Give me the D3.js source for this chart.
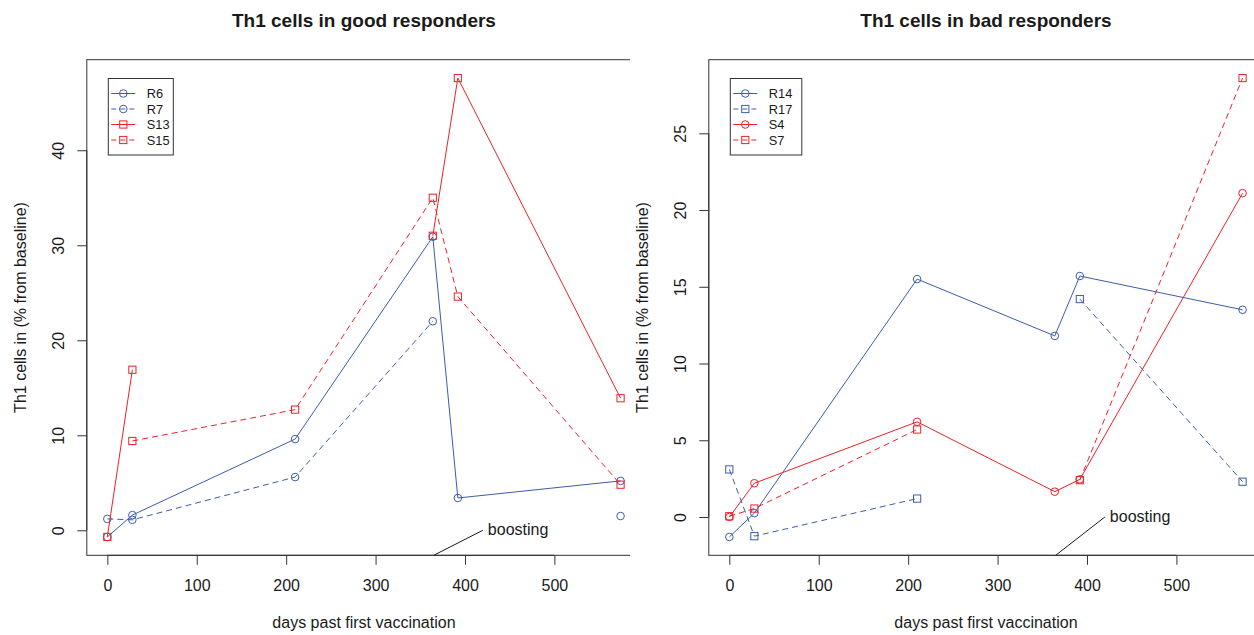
<!DOCTYPE html>
<html>
<head>
<meta charset="utf-8">
<script src="https://cdn.jsdelivr.net/npm/d3@7"></script>
<style>
  body { margin: 0; background: #fff; }
  svg { display: block; }
  text { font-family: "Liberation Sans", Arial, Helvetica, sans-serif; fill: #1a1a1a; }
</style>
</head>
<body>
<svg id="chart" width="1254" height="635"></svg>
<script>
// ---- data ----
const days = [0, 28, 210, 364, 392, 574];
const xTicks = [0, 100, 200, 300, 400, 500];

// good responders (Th1 cells, % from baseline); null = not measured
const goodNames = ["R6", "R7", "S13", "S15"];
const R6  = [-0.7, 1.6, 9.6, 30.9, 3.4, 5.2];
const R7  = [1.2, 1.1, 5.6, 22.0, null, 1.5];
const S13 = [-0.7, 16.9, null, 31.0, 47.6, 13.9];
const S15 = [null, 9.4, 12.7, 35.0, 24.6, 4.8];
const goodTicks = [0, 10, 20, 30, 40];

// bad responders
const badNames = ["R14", "R17", "S4", "S7"];
const R14 = [-1.3, 0.25, 15.5, 11.8, 15.7, 13.5];
const R17 = [3.1, -1.25, 1.2, null, 14.2, 2.3];
const S4  = [0.0, 2.2, 6.2, 1.65, 2.45, 21.1];
const S7  = [0.05, 0.55, 5.7, null, 2.4, 28.6];
const badTicks = [0, 5, 10, 15, 20, 25];

const boostStart = 365, boostEnd = 420, boostLabel = "boosting";
const yTitle = "Th1 cells in (% from baseline)";
const xTitle = "days past first vaccination";

// ---- styles ----
const BLUE = "#3c5caa", RED = "#ee2028";
const goodStyles = [
  { color: BLUE, dash: null, shape: "circle" },
  { color: BLUE, dash: "6,4", shape: "circle" },
  { color: RED,  dash: null, shape: "square" },
  { color: RED,  dash: "6,4", shape: "square" }
];
const badStyles = [
  { color: BLUE, dash: null, shape: "circle" },
  { color: BLUE, dash: "6,4", shape: "square" },
  { color: RED,  dash: null, shape: "circle" },
  { color: RED,  dash: "6,4", shape: "square" }
];

const svg = d3.select("#chart");
const AXIS = "#333";

// R-style range: data extent padded by 4% on each side
function padded(ext) {
  const d = (ext[1] - ext[0]) * 0.04;
  return [ext[0] - d, ext[1] + d];
}

function drawMarker(g, shape, x, y, color) {
  if (shape === "circle") {
    g.append("circle").attr("cx", x).attr("cy", y).attr("r", 3.8)
      .attr("fill", "none").attr("stroke", color).attr("stroke-width", 1);
  } else {
    g.append("rect").attr("x", x - 3.6).attr("y", y - 3.6)
      .attr("width", 7.2).attr("height", 7.2)
      .attr("fill", "none").attr("stroke", color).attr("stroke-width", 1);
  }
}

function drawPanel(cfg) {
  const { id, left, right, top, bottom, clipRight, title, names, series, styles, yTicks, legendW } = cfg;

  svg.append("clipPath").attr("id", id + "-clip")
    .append("rect").attr("x", left - 120).attr("y", 0)
    .attr("width", clipRight - (left - 120)).attr("height", 635);

  const g = svg.append("g").attr("clip-path", `url(#${id}-clip)`);

  const allVals = series.flat().filter(v => v != null);
  const x = d3.scaleLinear().domain(padded(d3.extent(days))).range([left, right]);
  const y = d3.scaleLinear().domain(padded(d3.extent(allVals))).range([bottom, top]);

  // plot box
  g.append("rect").attr("x", left).attr("y", top)
    .attr("width", right - left).attr("height", bottom - top)
    .attr("fill", "none").attr("stroke", AXIS).attr("stroke-width", 1);

  // x axis
  const xa = g.append("g").attr("transform", `translate(0,${bottom})`)
    .call(d3.axisBottom(x).tickValues(xTicks).tickSize(9.5).tickSizeOuter(0).tickPadding(0));
  xa.select(".domain").remove();
  xa.selectAll(".tick line").attr("stroke", AXIS);
  xa.selectAll(".tick text").attr("font-size", 16).attr("dy", null)
    .attr("y", 35.5).attr("fill", "#1a1a1a");
  xa.append("line").attr("x1", x(xTicks[0])).attr("x2", x(xTicks[xTicks.length - 1]))
    .attr("y1", 0).attr("y2", 0).attr("stroke", AXIS);

  // y axis with rotated labels
  const ya = g.append("g").attr("transform", `translate(${left},0)`)
    .call(d3.axisLeft(y).tickValues(yTicks).tickSize(9.5).tickSizeOuter(0));
  ya.select(".domain").remove();
  ya.selectAll(".tick line").attr("stroke", AXIS);
  ya.selectAll(".tick text").attr("font-size", 16).attr("dy", null)
    .attr("x", null).attr("text-anchor", "middle").attr("fill", "#1a1a1a")
    .attr("transform", "translate(-23,0) rotate(-90)");
  ya.append("line").attr("x1", 0).attr("x2", 0)
    .attr("y1", y(yTicks[0])).attr("y2", y(yTicks[yTicks.length - 1])).attr("stroke", AXIS);

  // titles
  const cx = (left + right) / 2;
  svg.append("text").attr("x", cx).attr("y", 27).attr("text-anchor", "middle")
    .attr("font-size", 19).attr("font-weight", "bold").text(title);
  svg.append("text").attr("x", cx).attr("y", 628).attr("text-anchor", "middle")
    .attr("font-size", 16).text(xTitle);
  svg.append("text").attr("transform", `translate(${left - 61},${(top + bottom) / 2}) rotate(-90)`)
    .attr("text-anchor", "middle").attr("font-size", 16).text(yTitle);

  // series
  const line = d3.line().defined(d => d.v != null).x(d => x(d.t)).y(d => y(d.v));
  series.forEach((vals, i) => {
    const st = styles[i];
    const pts = days.map((t, k) => ({ t, v: vals[k] }));
    g.append("path").datum(pts).attr("d", line)
      .attr("fill", "none").attr("stroke", st.color).attr("stroke-width", 1)
      .attr("stroke-dasharray", st.dash);
    const mg = g.append("g");
    pts.filter(p => p.v != null).forEach(p => drawMarker(mg, st.shape, x(p.t), y(p.v), st.color));
  });

  // boosting annotation
  g.append("line").attr("x1", x(boostStart)).attr("y1", bottom)
    .attr("x2", x(boostEnd)).attr("y2", y(0)).attr("stroke", "#1a1a1a").attr("stroke-width", 1);
  g.append("text").attr("x", x(boostEnd) + 5).attr("y", y(0) + 4.7)
    .attr("font-size", 16).text(boostLabel);

  // legend
  const lx = left + 21.5, ly = top + 18.8, rowH = 15.5;
  const lg = g.append("g");
  lg.append("rect").attr("x", lx).attr("y", ly).attr("width", legendW).attr("height", 76.5)
    .attr("fill", "#fff").attr("stroke", AXIS).attr("stroke-width", 1);
  names.forEach((n, i) => {
    const st = styles[i];
    const ry = ly + 15 + i * rowH;
    lg.append("line").attr("x1", lx + 3).attr("x2", lx + 27).attr("y1", ry).attr("y2", ry)
      .attr("stroke", st.color).attr("stroke-width", 1).attr("stroke-dasharray", st.dash ? "5,4" : null);
    drawMarker(lg, st.shape, lx + 15, ry, st.color);
    lg.append("text").attr("x", lx + 38.5).attr("y", ry + 4.6).attr("font-size", 12.8).text(n);
  });
}

drawPanel({
  id: "good", left: 86.8, right: 641.1, top: 59.7, bottom: 555.3, clipRight: 630,
  title: "Th1 cells in good responders", names: goodNames,
  series: [R6, R7, S13, S15], styles: goodStyles, yTicks: goodTicks, legendW: 65
});
drawPanel({
  id: "bad", left: 708.8, right: 1263.1, top: 59.7, bottom: 555.3, clipRight: 1254,
  title: "Th1 cells in bad responders", names: badNames,
  series: [R14, R17, S4, S7], styles: badStyles, yTicks: badTicks, legendW: 71.5
});
</script>
</body>
</html>
